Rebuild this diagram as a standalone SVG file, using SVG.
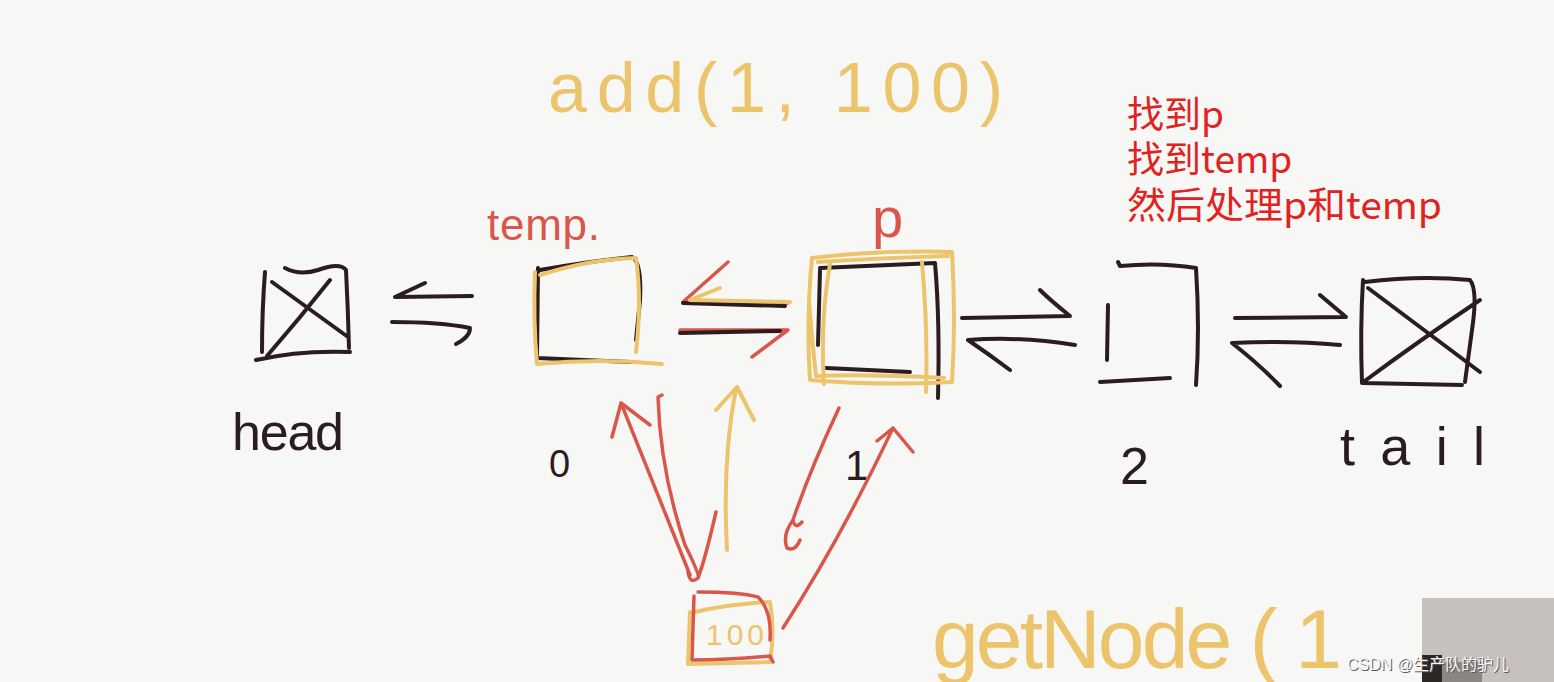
<svg xmlns="http://www.w3.org/2000/svg" width="1554" height="682" viewBox="0 0 1554 682">
<style>
.k{fill:none;stroke:#2b1d1f;stroke-width:4;stroke-linecap:round;stroke-linejoin:round}
.y{fill:none;stroke:#ecc46c;stroke-width:4;stroke-linecap:round;stroke-linejoin:round}
.r{fill:none;stroke:#d9574a;stroke-width:3.5;stroke-linecap:round;stroke-linejoin:round}
.hk{font-family:"Liberation Sans","DejaVu Sans",sans-serif;fill:#2b1d1f}
.hy{font-family:"Liberation Sans","DejaVu Sans",sans-serif;fill:#ecc46c}
.hr{font-family:"Liberation Sans","DejaVu Sans",sans-serif;fill:#d9574a}
.cn{font-family:"Noto Sans CJK SC","Noto Sans",sans-serif;font-size:37px;fill:#e0231f}
.wm{font-family:"Liberation Sans","Noto Sans CJK SC",sans-serif;font-size:16px}
</style>
<rect width="1554" height="682" fill="#f7f7f5"/>

<g id="title">
<text class="hy" x="548" y="112" font-size="70" textLength="455" lengthAdjust="spacing">add(1, 100)</text>
</g>

<g id="note">
<text class="cn" x="1127" y="128">找到p</text>
<text class="cn" x="1127" y="173">找到temp</text>
<text class="cn" x="1127" y="219" textLength="315" lengthAdjust="spacingAndGlyphs">然后处理p和temp</text>
</g>

<g id="head">
<path class="k" d="M265 272 Q262 310 262 352 M285 268 Q300 276 318 270 Q340 262 346 270 Q348 310 349 348 M256 360 Q300 350 350 352 M272 282 L348 337 M330 280 Q300 318 267 356"/>
<text class="hk" x="232" y="450" font-size="52" textLength="112" lengthAdjust="spacing">head</text>
</g>

<g id="node0">
<path class="k" d="M540 270 Q585 262 632 257 Q642 262 640 300 L636 340 M538 268 L537 358 L630 362"/>
<path class="y" d="M540 275 Q590 259 636 258 Q642 300 636 352 M535 272 Q533 320 537 364 Q600 358 662 364"/>
<text class="hk" x="549" y="477" font-size="38">0</text>
</g>

<g id="nodeP">
<path class="k" d="M820 268 L935 263 Q940 320 938 398 M820 270 L818 345 M826 368 L910 372"/>
<path class="y" d="M812 258 Q880 250 952 252 Q956 320 952 382 Q880 386 810 380 Q806 320 812 258 M818 262 Q880 258 948 256 M809 300 Q812 340 816 376 Q870 374 944 378 M922 262 Q928 330 926 392 M830 264 Q820 320 824 384"/>
<text class="hk" x="845" y="480" font-size="42">1</text>
</g>

<g id="node2">
<path class="k" d="M1118 262 L1120 266 Q1160 262 1196 268 Q1200 330 1196 385 M1108 305 L1107 360 M1100 382 L1170 378"/>
<text class="hk" x="1120" y="484" font-size="52">2</text>
</g>

<g id="tail">
<path class="k" d="M1365 282 Q1420 275 1470 280 Q1478 290 1472 330 L1465 382 M1363 280 Q1360 330 1362 383 L1462 385 M1368 288 L1480 372 M1480 300 Q1420 340 1362 383"/>
<text class="hk" x="1340" y="465" font-size="54" textLength="145" lengthAdjust="spacing">tail</text>
</g>

<g id="labels">
<text class="hr" x="487" y="240" font-size="44" textLength="113" lengthAdjust="spacing">temp.</text>
<text class="hr" x="872" y="237" font-size="56">p</text>
</g>

<g id="node100">
<path class="y" d="M695 612 Q730 604 770 602 Q775 630 770 662 L688 664 L690 612"/>
<path class="r" d="M694 596 L692 660 Q730 660 770 656 L773 662 M698 592 Q740 592 758 597 Q772 610 770 640"/>
<text class="hy" x="706" y="645" font-size="30" textLength="58" lengthAdjust="spacing">100</text>
</g>

<g id="connectors">
<path class="k" d="M395 297 L472 296 M425 283 L395 297 M392 322 Q440 322 470 328 Q470 337 456 344"/>
<path class="r" d="M683 302 L788 303 M683 302 L728 262 M680 330 L788 330 L752 357"/>
<path class="k" d="M683 303 L785 306 M680 333 L780 331"/>
<path class="y" d="M690 300 L790 302 M690 300 L720 288"/>
<path class="k" d="M962 318 L1070 316 Q1050 300 1040 290 M968 340 Q1020 336 1075 345 M968 340 Q990 355 1010 370"/>
<path class="k" d="M1235 318 L1346 317 L1320 295 M1232 343 Q1290 340 1340 345 M1232 343 Q1260 365 1280 386"/>
<path class="r" d="M690 575 L621 403 M621 403 L612 437 M621 403 L650 425"/>
<path class="r" d="M662 395 L658 397 Q660 470 685 545 Q700 575 698 578 Q690 585 688 572 M698 578 Q705 560 716 512"/>
<path class="y" d="M727 550 Q722 460 736 388 M716 410 L737 387 L754 420"/>
<path class="r" d="M839 408 Q810 470 793 520 Q795 530 802 522 M793 520 Q782 535 787 548 Q795 552 800 540"/>
<path class="r" d="M783 628 Q840 540 893 428 M893 428 L877 441 M893 428 L913 452"/>
</g>

<g id="footer">
<text class="hy" x="932" y="668" font-size="84" textLength="410" lengthAdjust="spacing">getNode ( 1</text>
<rect x="1422" y="598" width="132" height="84" fill="#c6c1bc"/>
<rect x="1422" y="655" width="20" height="27" fill="#2c2624"/>
<rect x="1442" y="662" width="40" height="20" fill="#8c8682"/>
<text class="wm" x="1348" y="671" fill="#5a5a5a">CSDN @生产队的驴儿</text>
<text class="wm" x="1347" y="670" fill="#f6f6f6">CSDN @生产队的驴儿</text>
</g>
</svg>
